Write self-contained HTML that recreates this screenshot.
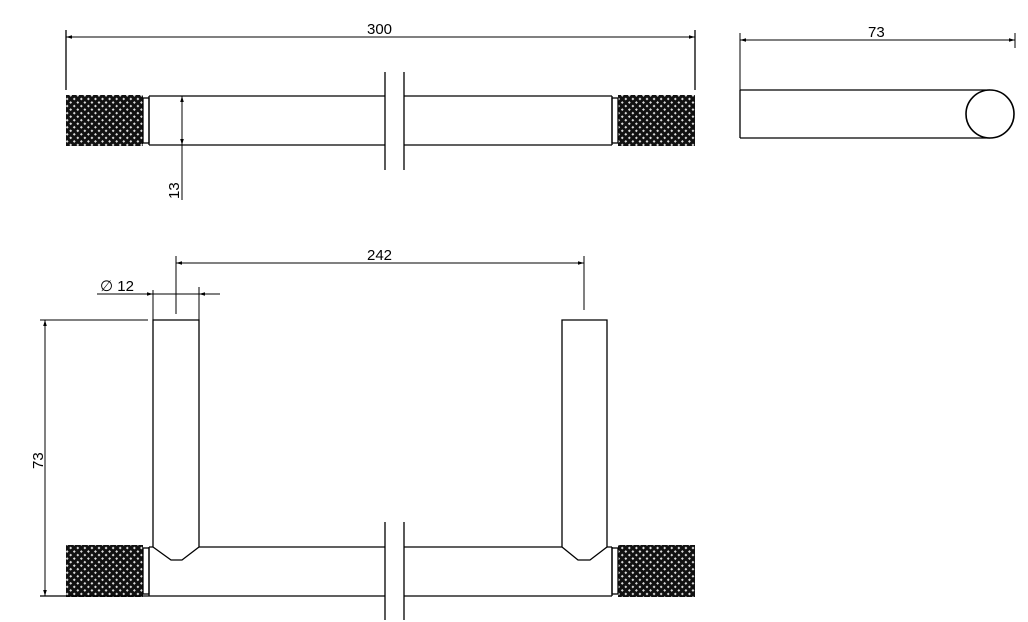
<!DOCTYPE html><html><head><style>body{margin:0;background:#fff}svg{display:block}text{font-family:"Liberation Sans",sans-serif;font-size:15px;fill:#000}</style></head><body>
<svg width="1028" height="622" viewBox="0 0 1028 622" xmlns="http://www.w3.org/2000/svg">
<defs>
<pattern id="k" width="5" height="5" patternUnits="userSpaceOnUse" patternTransform="rotate(45)"><rect width="5" height="5" fill="#111"/><rect x="1.5" y="1.5" width="2" height="2" fill="#ddd"/></pattern>
<marker id="a" viewBox="0 0 10 10" refX="10" refY="5" markerWidth="10" markerHeight="6" orient="auto-start-reverse" markerUnits="userSpaceOnUse"><path d="M0,2 L10,5 L0,8z" fill="#000"/></marker>
</defs>
<g stroke="#000" stroke-width="1.3" fill="none">
<rect x="66" y="95" width="77" height="51" fill="url(#k)" stroke="none"/>
<rect x="618" y="95" width="77" height="51" fill="url(#k)" stroke="none"/>
<rect x="143" y="98" width="6" height="45"/><rect x="612" y="98" width="6" height="45"/>
<path d="M149,96 H385 M404,96 H612 M149,145 H385 M404,145 H612 M149,96 V145 M612,96 V145"/>
<path d="M385,72 V170 M404,72 V170"/>
<path d="M66,30 V90 M695,30 V90"/>
<line x1="66" y1="37" x2="695" y2="37" marker-start="url(#a)" marker-end="url(#a)" stroke-width="1"/>
<line x1="182" y1="96" x2="182" y2="145" marker-start="url(#a)" marker-end="url(#a)" stroke-width="1"/>
<path d="M182,145 V200" stroke-width="1"/>
<path d="M740,90 H990 M740,138 H990 M740,90 V138"/>
<circle cx="990" cy="114" r="24" fill="#fff" stroke-width="1.6"/>
<path d="M740,33 V90 M1015,33 V48" stroke-width="1"/>
<line x1="740" y1="40" x2="1015" y2="40" marker-start="url(#a)" marker-end="url(#a)" stroke-width="1"/>
<rect x="66" y="545" width="77" height="52" fill="url(#k)" stroke="none"/>
<rect x="618" y="545" width="77" height="52" fill="url(#k)" stroke="none"/>
<rect x="143" y="548" width="6" height="46"/><rect x="612" y="548" width="6" height="46"/>
<path d="M149,547 V596 M612,547 V596 M199,547 H385 M404,547 H562 M607,547 H612 M149,547 H153"/>
<path d="M40,596 H385 M404,596 H612"/>
<path d="M153,547 V320 H199 V547 M153,547 L171,560 H182 L199,547"/>
<path d="M562,547 V320 H607 V547 M562,547 L578,560 H590 L607,547"/>
<path d="M385,522 V620 M404,522 V620"/>
<path d="M40,320 H148" stroke-width="1"/>
<line x1="45" y1="320" x2="45" y2="596" marker-start="url(#a)" marker-end="url(#a)" stroke-width="1"/>
<path d="M176,256 V314 M584,256 V310" stroke-width="1"/>
<line x1="176" y1="263" x2="584" y2="263" marker-start="url(#a)" marker-end="url(#a)" stroke-width="1"/>
<path d="M97,294 H220 M153,290 V320 M199,287 V350" stroke-width="1"/>
<line x1="137" y1="294" x2="153" y2="294" marker-end="url(#a)" stroke-width="1"/>
<line x1="215" y1="294" x2="199" y2="294" marker-end="url(#a)" stroke-width="1"/>
</g>
<text x="367" y="34">300</text>
<text x="868" y="37">73</text>
<text x="367" y="260">242</text>
<text x="100" y="291">∅ 12</text>
<text transform="translate(179,199) rotate(-90)">13</text>
<text transform="translate(43,469) rotate(-90)">73</text>
</svg></body></html>
